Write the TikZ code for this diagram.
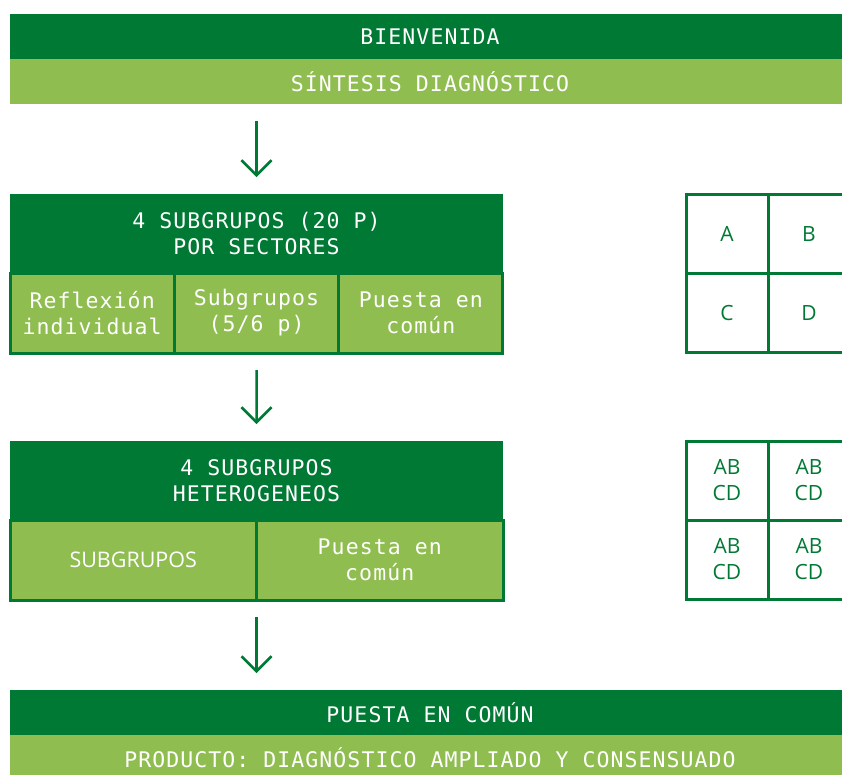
\documentclass[tikz,border=0pt]{standalone}
\usepackage{fontspec}
\setmainfont{Open Sans}
\newfontfamily\monofont[LetterSpace=5]{DejaVu Sans Mono}
\usetikzlibrary{positioning, arrows.meta}

\definecolor{darkgreen}{RGB}{0,121,52}
\definecolor{lightgreen}{RGB}{143,189,79}

\tikzset{
    band/.style={fill=darkgreen, text=white, minimum width=840, minimum height=45,
        inner sep=0, outer sep=0, anchor=north west, font=\monofont\fontsize{21.5}{26}\selectfont},
    head/.style={fill=darkgreen, text=white, minimum width=493, minimum height=79,
        inner sep=0, outer sep=0, align=center, font=\monofont\fontsize{21.5}{26}\selectfont},
    cell/.style={fill=lightgreen, draw=darkgreen, line width=3, text=white, minimum height=80,
        inner sep=0, outer sep=0, align=center, font=\monofont\fontsize{21.5}{26}\selectfont},
    gridcell/.style={draw=darkgreen, line width=3, text=darkgreen, minimum width=82, minimum height=79,
        inner sep=0, outer sep=0, align=center, font=\fontsize{21}{26}\selectfont},
    flow/.style={->, darkgreen, line width=2.5, shorten <=17, shorten >=17}
}

\begin{document}
\begin{tikzpicture}[x=1pt, y=-1pt, >={Straight Barb[length=15pt, width=30pt]}]
    \useasboundingbox (0,0) rectangle (842,774);

    % inicio
    \node[band] (welcome) at (10,14) {BIENVENIDA};
    \node[band, fill=lightgreen] (synth) at (welcome.south west) {SÍNTESIS DIAGNÓSTICO};

    % primera ronda
    \node[head, anchor=north west] (sub1) at (10,194) {4 SUBGRUPOS (20 P)\\POR SECTORES};
    \node[cell, minimum width=164.33, anchor=north west] (refl) at (sub1.south west) {Reflexión\\individual};
    \node[cell, minimum width=164.33, right=0 of refl] (subg) {Subgrupos\\(5/6 p)};
    \node[cell, minimum width=164.33, right=0 of subg] (put1) {Puesta en\\común};

    \node[gridcell, anchor=north west] (ga) at (686,194) {A};
    \node[gridcell, right=0 of ga] (gb) {B};
    \node[gridcell, below=0 of ga] (gc) {C};
    \node[gridcell, right=0 of gc] (gd) {D};

    % segunda ronda
    \node[head, anchor=north west] (sub2) at (10,441) {4 SUBGRUPOS\\HETEROGENEOS};
    \node[cell, minimum width=246.5, anchor=north west, font=\fontsize{21.5}{26}\selectfont] (subh) at (sub2.south west) {SUBGRUPOS};
    \node[cell, minimum width=246.5, right=0 of subh] (put2) {Puesta en\\común};

    \node[gridcell, anchor=north west] (ha) at (686,441) {AB\\CD};
    \node[gridcell, right=0 of ha] (hb) {AB\\CD};
    \node[gridcell, below=0 of ha] (hc) {AB\\CD};
    \node[gridcell, right=0 of hc] (hd) {AB\\CD};

    % cierre
    \node[band] (common) at (10,690) {PUESTA EN COMÚN};
    \node[band, fill=lightgreen] (product) at (common.south west) {PRODUCTO: DIAGNÓSTICO AMPLIADO Y CONSENSUADO};

    \draw[flow] (synth.south -| sub1.north) -- (sub1.north);
    \draw[flow] (subg.south) -- (sub2.north);
    \draw[flow] (subh.south east) -- (common.north -| subh.south east);
\end{tikzpicture}
\end{document}
